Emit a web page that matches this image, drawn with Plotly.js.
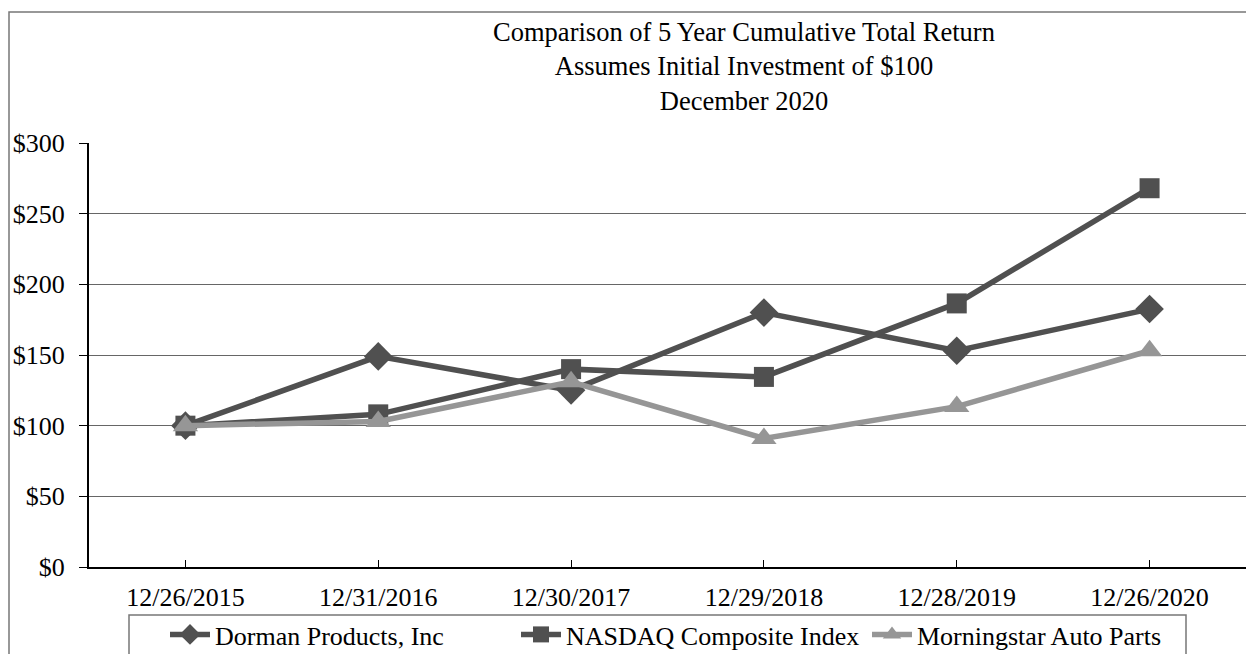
<!DOCTYPE html>
<html>
<head>
<meta charset="utf-8">
<script src="https://cdn.plot.ly/plotly-3.0.1.min.js"></script>
<style>
html,body{margin:0;padding:0;background:#fff;}
#chart{width:1246px;height:654px;}
</style>
</head>
<body>
<div id="chart"></div>
<script>
const dates = ["12/26/2015","12/31/2016","12/30/2017","12/29/2018","12/28/2019","12/26/2020"];
const dorman = [100, 149, 125, 180, 153, 182.5];
const nasdaq = [100, 108, 140, 134.5, 186.5, 268];
const morningstar = [100, 103, 131, 91, 113.5, 153];
const seriesNames = ["Dorman Products, Inc", "NASDAQ Composite Index", "Morningstar Auto Parts"];
const yTickVals = [0, 50, 100, 150, 200, 250, 300];
const yTickText = ["$0","$50","$100","$150","$200","$250","$300"];

const font = "Liberation Serif, Times New Roman, serif";
const dark = "#505050", light = "#969696";

const traces = [
  {x: dates, y: dorman, name: seriesNames[0], type: "scatter", mode: "lines+markers",
   line: {color: dark, width: 5.5}, marker: {symbol: "diamond", size: 22, color: dark}},
  {x: dates, y: nasdaq, name: seriesNames[1], type: "scatter", mode: "lines+markers",
   line: {color: dark, width: 5.5}, marker: {symbol: "square", size: 20, color: dark}},
  {x: dates, y: morningstar, name: seriesNames[2], type: "scatter", mode: "lines+markers",
   line: {color: light, width: 5.5}, marker: {symbol: "triangle-up", size: 22, color: light}}
];

const layout = {
  width: 1246, height: 654,
  margin: {l: 89, r: 0, t: 143, b: 87, pad: 0, autoexpand: false},
  paper_bgcolor: "#fff", plot_bgcolor: "#fff",
  font: {family: font, size: 26, color: "#000"},
  showlegend: true,
  title: {
    text: "Comparison of 5 Year Cumulative Total Return<br>Assumes Initial Investment of $100<br>December 2020",
    font: {family: font, size: 26.5, color: "#000"},
    x: 744/1246, xanchor: "center", xref: "container",
    y: 1 - 41/654, yanchor: "top", yref: "container"
  },
  xaxis: {
    type: "category", range: [-0.5, 5.5], fixedrange: true,
    showline: true, linecolor: "#000", linewidth: 2,
    ticks: "inside", ticklen: 7, tickcolor: "#000", tickwidth: 1,
    showgrid: false, tickfont: {family: font, size: 26, color: "#000"},
    ticklabelstandoff: 6
  },
  yaxis: {
    range: [0, 300], tickvals: yTickVals, ticktext: yTickText,
    showline: true, linecolor: "#000", linewidth: 2,
    ticks: "outside", ticklen: 8, tickcolor: "#000",
    showgrid: true, gridcolor: "#666", gridwidth: 1,
    zeroline: false, tickfont: {family: font, size: 26, color: "#000"},
    ticklabelstandoff: 9
  },
  legend: {
    orientation: "h", x: (165-89)/1157, xanchor: "left", y: (567-611)/424, yanchor: "top",
    font: {family: font, size: 26, color: "#000"},
    bgcolor: "rgba(0,0,0,0)", borderwidth: 0, itemwidth: 40,
    entrywidth: 296, entrywidthmode: "pixels",
    tracegroupgap: 0
  },
  shapes: [
    {type: "rect", xref: "paper", yref: "paper",
     x0: (9-89)/1157, x1: 1.05, y0: -0.3, y1: (567-12)/424,
     line: {color: "#777", width: 1.5}, fillcolor: "rgba(0,0,0,0)", layer: "below"},
    {type: "rect", xref: "paper", yref: "paper",
     x0: (129-89)/1157, x1: (1186-89)/1157, y0: -0.3, y1: (567-615)/424,
     line: {color: "#777", width: 1.5}, fillcolor: "rgba(0,0,0,0)", layer: "below"}
  ]
};

Plotly.newPlot("chart", traces, layout, {displayModeBar: false, staticPlot: true});
</script>
</body>
</html>
